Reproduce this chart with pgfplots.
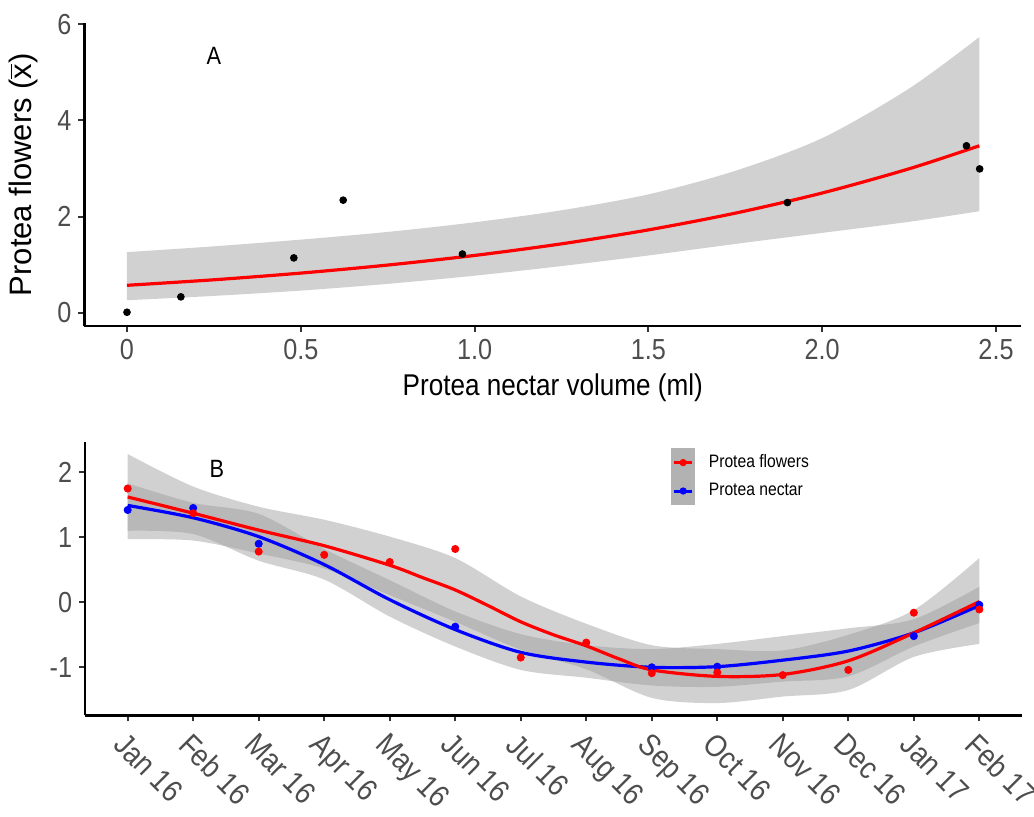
\documentclass[border=0pt]{standalone}
\usepackage{pgfplots}
\pgfplotsset{compat=1.18}
\usepgfplotslibrary{fillbetween}
\usepackage{fontspec}
\setmainfont[FakeStretch=0.87]{Liberation Sans}
\newfontfamily\ylabfont{Liberation Sans}
\definecolor{tickgray}{RGB}{77,77,77}
\definecolor{bandgray}{RGB}{153,153,153}
\definecolor{keygray}{RGB}{178,178,178}
\pgfplotsset{
  ggaxis/.style={
    scale only axis,
    width=468.4pt,
    axis x line*=bottom, axis y line*=left,
    axis line style={line width=1.1pt, black},
    tick align=outside,
    major tick length=3pt,
    tick style={line width=1pt, black!80},
    ticklabel style={font=\fontsize{14.5}{17}\selectfont, text=tickgray},
  }
}
\begin{document}
\begin{tikzpicture}
% ---------------- Panel A ----------------
\begin{axis}[ggaxis,
  at={(42.2pt,-163pt)}, anchor=south west, height=151.35pt,
  xmin=-0.1225, xmax=2.5725, ymin=-0.276, ymax=6.016,
  xtick={0,0.5,1,1.5,2,2.5}, xticklabels={0,0.5,1.0,1.5,2.0,2.5},
  ytick={0,2,4,6}, yticklabels={0,2,4,6},
  xlabel={Protea nectar volume (ml)},
  xlabel style={font=\fontsize{15}{18}\selectfont},
  ylabel={\ylabfont Protea flowers ($\overline{\mbox{x}}$)},
  ylabel style={font=\fontsize{15.5}{18}\selectfont, at={(axis description cs:-0.0655,0.5)}, anchor=center},
]
\addplot[only marks, mark=*, mark size=1.7pt, black] table {
x y
0 0.01
0.155 0.33
0.48 1.14
0.622 2.34
0.965 1.22
1.90 2.29
2.415 3.47
2.453 2.99
};
\addplot[name path=tu, draw=none, smooth] table {
x y
0 1.26
0.25 1.38
0.5 1.52
0.75 1.68
1.0 1.88
1.25 2.13
1.5 2.46
1.75 2.95
2.0 3.63
2.25 4.66
2.452 5.73
};
\addplot[name path=tl, draw=none, smooth] table {
x y
0 0.26
0.25 0.35
0.5 0.46
0.75 0.60
1.0 0.77
1.25 0.97
1.5 1.19
1.75 1.43
2.0 1.66
2.25 1.89
2.452 2.11
};
\addplot[fill=bandgray, fill opacity=0.45, draw=none] fill between[of=tu and tl];
\addplot[red, line width=1.6pt, smooth] table {
x y
0 0.570
0.25 0.685
0.5 0.824
0.75 0.991
1.0 1.191
1.25 1.432
1.5 1.722
1.75 2.070
2.0 2.489
2.25 2.992
2.452 3.470
};
\node[font=\fontsize{12.5}{14}\selectfont] at (axis cs:0.25,5.34) {A};
\end{axis}
% ---------------- Panel B ----------------
\begin{axis}[ggaxis,
  at={(42.55pt,-357.7pt)}, anchor=south west, height=136.85pt,
  xmin=-0.65, xmax=13.65, ymin=-1.74, ymax=2.47,
  xtick={0,1,2,3,4,5,6,7,8,9,10,11,12,13},
  xticklabels={Jan 16,Feb 16,Mar 16,Apr 16,May 16,Jun 16,Jul 16,Aug 16,Sep 16,Oct 16,Nov 16,Dec 16,Jan 17,Feb 17},
  xticklabel style={rotate=-45, anchor=north west, font=\fontsize{15.5}{17}\selectfont},
  ytick={-1,0,1,2}, yticklabels={-1,0,1,2},
  legend style={at={(0.6255,0.977)}, anchor=north west, draw=none, fill=none,
    inner sep=0pt, font=\fontsize{9}{11}\selectfont,
    nodes={inner sep=1pt, anchor=west},
    /tikz/every odd column/.append style={column sep=6pt}, row sep=0pt},
  legend cell align=left,
]
\addplot[name path=ru, draw=none, smooth, forget plot] table {
x y
0 2.28
1 1.78
2 1.47
3 1.27
4 1.01
5 0.68
6 0.09
7 -0.33
8 -0.66
9 -0.72
10 -0.74
11 -0.50
12 -0.12
13 0.68
};
\addplot[name path=rl, draw=none, smooth, forget plot] table {
x y
0 0.97
1 0.95
2 0.75
3 0.52
4 0.11
5 -0.30
6 -0.73
7 -1.03
8 -1.47
9 -1.55
10 -1.45
11 -1.35
12 -0.84
13 -0.64
};
\addplot[name path=bu, draw=none, smooth, forget plot] table {
x y
0 1.83
1 1.53
2 1.36
3 0.82
4 0.34
5 -0.14
6 -0.49
7 -0.66
8 -0.72
9 -0.64
10 -0.52
11 -0.40
12 -0.26
13 0.24
};
\addplot[name path=bl, draw=none, smooth, forget plot] table {
x y
0 1.10
1 1.05
2 0.64
3 0.35
4 -0.22
5 -0.68
6 -1.04
7 -1.16
8 -1.28
9 -1.30
10 -1.22
11 -1.14
12 -0.68
13 -0.32
};
\addplot[fill=bandgray, fill opacity=0.45, draw=none, forget plot] fill between[of=ru and rl];
\addplot[fill=bandgray, fill opacity=0.45, draw=none, forget plot] fill between[of=bu and bl];
\addplot[blue, line width=1.6pt, smooth, forget plot] table {
x y
0 1.49
1 1.30
2 1.01
3 0.58
4 0.04
5 -0.42
6 -0.77
7 -0.92
8 -1.00
9 -0.99
10 -0.89
11 -0.75
12 -0.47
13 -0.05
};
\addplot[red, line width=1.6pt, smooth, forget plot] table {
x y
0 1.62
1 1.37
2 1.11
3 0.87
4 0.57
4.5 0.38
5 0.19
5.5 -0.05
6 -0.30
6.5 -0.50
7 -0.67
7.5 -0.87
8 -1.04
9 -1.14
10 -1.11
11 -0.90
12 -0.47
13 0.01
};
\addplot[only marks, mark=*, mark size=1.8pt, blue, forget plot] table {
x y
0 1.42
1 1.45
2 0.90
5 -0.375
8 -1.00
9 -0.99
12 -0.52
13 -0.04
};
\addplot[only marks, mark=*, mark size=1.8pt, red, forget plot] table {
x y
0 1.75
1 1.37
2 0.78
3 0.73
4 0.62
5 0.82
6 -0.85
7 -0.62
8 -1.09
9 -1.08
10 -1.12
11 -1.04
12 -0.16
13 -0.11
};
\addlegendimage{legend image code/.code={
  \fill[keygray] (0pt,-6.9pt) rectangle (11.3pt,6.9pt);
  \draw[red, line width=1.5pt] (1pt,0pt) -- (10.3pt,0pt);
  \fill[red] (5.65pt,0pt) circle (1.6pt);}}
\addlegendentry{Protea flowers}
\addlegendimage{legend image code/.code={
  \fill[keygray] (0pt,-6.9pt) rectangle (11.3pt,6.9pt);
  \draw[blue, line width=1.5pt] (1pt,0pt) -- (10.3pt,0pt);
  \fill[blue] (5.65pt,0pt) circle (1.6pt);}}
\addlegendentry{Protea nectar}
\node[font=\fontsize{12.5}{14}\selectfont] at (axis cs:1.36,2.05) {B};
\end{axis}
\pgfresetboundingbox
\path (0pt,0pt) rectangle (517pt,-408pt);
\end{tikzpicture}
\end{document}
